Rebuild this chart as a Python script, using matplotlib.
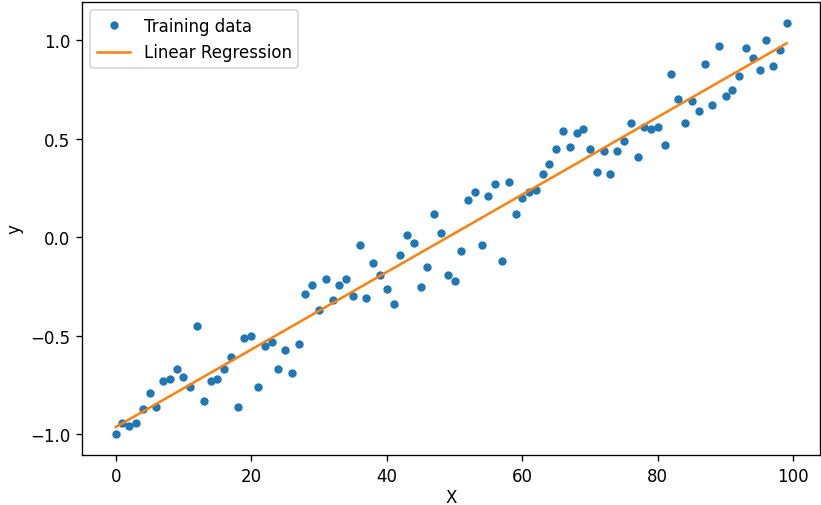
import numpy as np
import matplotlib
matplotlib.use('Agg')
import matplotlib.pyplot as plt

# values
x = np.arange(100)
y = [-1.00, -0.94, -0.96, -0.94, -0.87, -0.79, -0.86, -0.73, -0.72, -0.67,
     -0.71, -0.76, -0.45, -0.83, -0.73, -0.72, -0.67, -0.61, -0.86, -0.51,
     -0.50, -0.76, -0.55, -0.53, -0.67, -0.57, -0.69, -0.54, -0.29, -0.24,
     -0.37, -0.21, -0.32, -0.24, -0.21, -0.30, -0.04, -0.31, -0.13, -0.19,
     -0.26, -0.34, -0.09, 0.01, -0.03, -0.25, -0.15, 0.12, 0.02, -0.19,
     -0.22, -0.07, 0.19, 0.23, -0.04, 0.21, 0.27, -0.12, 0.28, 0.12,
     0.20, 0.23, 0.24, 0.32, 0.37, 0.45, 0.54, 0.46, 0.53, 0.55,
     0.45, 0.33, 0.44, 0.32, 0.44, 0.49, 0.58, 0.41, 0.56, 0.55,
     0.56, 0.47, 0.83, 0.70, 0.58, 0.69, 0.64, 0.88, 0.67, 0.97,
     0.72, 0.75, 0.82, 0.96, 0.91, 0.85, 1.00, 0.87, 0.95, 1.09]
y = np.array(y)

slope, intercept = np.polyfit(x, y, 1)
y_pred = slope * x + intercept

# reference looks like it was saved at a higher dpi, so everything scales up
DPI = 120
fig = plt.figure(figsize=(8.21 * 100 / DPI, 5.06 * 100 / DPI), dpi=DPI)
ax = fig.add_axes([0.1, 0.099, 0.899, 0.895])
ax.plot(x, y, 'o', markersize=4, color='tab:blue', label='Training data')
ax.plot(x, y_pred, '-', color='tab:orange', linewidth=1.5, label='Linear Regression')
ax.set_xlabel('X', labelpad=2)
ax.set_ylabel('y')
ax.set_yticks([-1.0, -0.5, 0.0, 0.5, 1.0])
ax.legend(loc='upper left')

fig.savefig('out.png', dpi=DPI)
